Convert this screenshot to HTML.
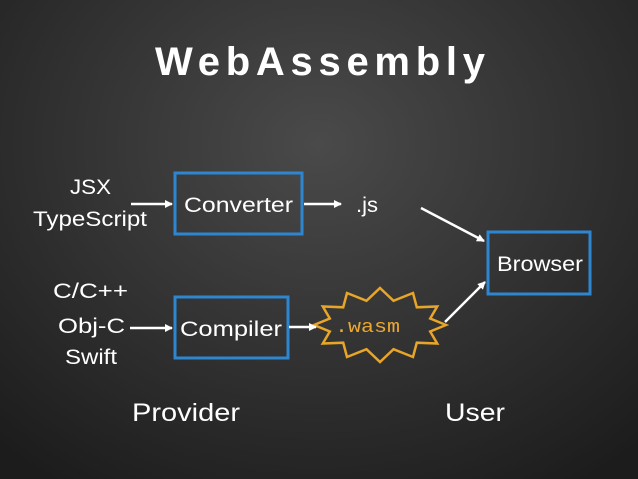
<!DOCTYPE html>
<html><head><meta charset="utf-8"><style>
html,body{margin:0;padding:0}
body{width:638px;height:479px;overflow:hidden;background:radial-gradient(ellipse 75% 85% at 50% 30%,#4a4a4a 0%,#333 50%,#1c1c1c 100%);}
svg{display:block}
text{font-family:"Liberation Sans",sans-serif;fill:#fff}
</style></head><body>
<svg width="638" height="479" viewBox="0 0 638 479">
<defs><marker id="a" markerWidth="8" markerHeight="8" refX="7" refY="4" orient="auto" markerUnits="userSpaceOnUse"><path d="M0,0 L8,4 L0,8 z" fill="#fff"/></marker></defs>
<text x="155" y="75" font-size="40" font-weight="bold" textLength="330" lengthAdjust="spacing">WebAssembly</text>
<g font-size="21" lengthAdjust="spacingAndGlyphs">
<text x="70" y="194" textLength="41" lengthAdjust="spacingAndGlyphs">JSX</text>
<text x="33" y="226" textLength="114" lengthAdjust="spacingAndGlyphs">TypeScript</text>
<text x="53" y="298" textLength="75" lengthAdjust="spacingAndGlyphs">C/C++</text>
<text x="58" y="333" textLength="67" lengthAdjust="spacingAndGlyphs">Obj-C</text>
<text x="65" y="364" textLength="52" lengthAdjust="spacingAndGlyphs">Swift</text>
<text x="184" y="212" textLength="109" lengthAdjust="spacingAndGlyphs">Converter</text>
<text x="180" y="336" textLength="102" lengthAdjust="spacingAndGlyphs">Compiler</text>
<text x="356" y="212" textLength="22" lengthAdjust="spacingAndGlyphs">.js</text>
<text x="497" y="271" textLength="86" lengthAdjust="spacingAndGlyphs">Browser</text>
</g>
<g font-size="25">
<text x="132" y="421" textLength="108" lengthAdjust="spacingAndGlyphs">Provider</text>
<text x="445" y="421" textLength="60" lengthAdjust="spacingAndGlyphs">User</text>
</g>
<g fill="none" stroke="#2e86d0" stroke-width="3">
<rect x="175" y="173" width="127" height="61"/>
<rect x="175" y="297" width="113" height="61"/>
<rect x="488" y="232" width="102" height="62"/>
</g>
<polygon fill="none" stroke="#e8a628" stroke-width="2.5" points="446,325 430.2,331.5 437.2,343.5 416.8,342.7 413,357 393.5,349.2 380,362 366.5,349.2 347,357 343.2,342.7 322.8,343.5 329.8,331.5 314,325 329.8,318.5 322.8,306.5 343.2,307.3 347,293 366.5,300.8 380,288 393.5,300.8 413,293 416.8,307.3 437.2,306.5 430.2,318.5"/>
<text x="335" y="332" font-size="18" textLength="65" lengthAdjust="spacingAndGlyphs" style="fill:#eaa830;font-family:'Liberation Mono',monospace">.wasm</text>
<g stroke="#fff" stroke-width="2.5" marker-end="url(#a)">
<line x1="131" y1="204" x2="172" y2="204"/>
<line x1="304" y1="204" x2="341" y2="204"/>
<line x1="130" y1="328" x2="172" y2="328"/>
<line x1="289" y1="327" x2="316" y2="327"/>
<line x1="421" y1="208" x2="484" y2="241"/>
<line x1="445" y1="322" x2="485" y2="282"/>
</g>
</svg>
</body></html>
